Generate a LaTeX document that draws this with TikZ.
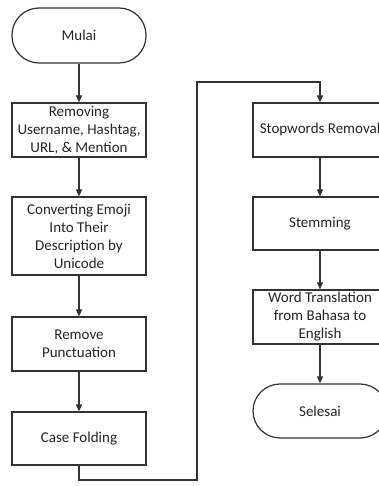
\documentclass[tikz,border=0pt]{standalone}
\usepackage{fontspec}
\setmainfont{Carlito}
\usetikzlibrary{arrows.meta}
\begin{document}
\begin{tikzpicture}[x=1pt,y=-1pt,
  every node/.style={font=\fontsize{15}{18}\selectfont, text=black!85, align=center},
  proc/.style={draw=black!80, line width=1.2pt, rectangle, minimum width=134pt, inner sep=0pt},
  term/.style={draw=black!80, line width=1.2pt, rectangle, rounded corners=27pt, minimum width=134pt, minimum height=55pt, inner sep=0pt},
  flow/.style={draw=black!80, line width=1.2pt, -{Triangle[length=7pt,width=6pt]}}]
\useasboundingbox (0,0) rectangle (379,486);
\fill[white] (0,0) rectangle (379,486);
\node[term] (mulai) at (79,35.5) {Mulai};
\node[proc, minimum height=54pt] (b1) at (79,130) {Removing\\Username, Hashtag,\\URL, \& Mention};
\node[proc, minimum height=78pt] (b2) at (79,236) {Converting Emoji\\Into Their\\Description by\\Unicode};
\node[proc, minimum height=54pt] (b3) at (79,344) {Remove\\Punctuation};
\node[proc, minimum height=53pt] (b4) at (79,438.5) {Case Folding};
\node[proc, minimum height=54pt] (b5) at (320,130) {Stopwords Removal};
\node[proc, minimum height=53pt] (b6) at (320,223.5) {Stemming};
\node[proc, minimum height=54pt] (b7) at (320,317) {Word Translation\\from Bahasa to\\English};
\node[term, minimum height=54pt] (sel) at (320,411) {Selesai};
\coordinate (c1) at (79,480);
\coordinate (c2) at (197,480);
\coordinate (c3) at (197,82);
\coordinate (c4) at (320,82);
\draw[flow] (mulai) -- (b1);
\draw[flow] (b1) -- (b2);
\draw[flow] (b2) -- (b3);
\draw[flow] (b3) -- (b4);
\draw[flow] (b4.south) -- (c1) -- (c2) -- (c3) -- (c4) -- (b5.north);
\draw[flow] (b5) -- (b6);
\draw[flow] (b6) -- (b7);
\draw[flow] (b7) -- (sel);
\end{tikzpicture}
\end{document}
